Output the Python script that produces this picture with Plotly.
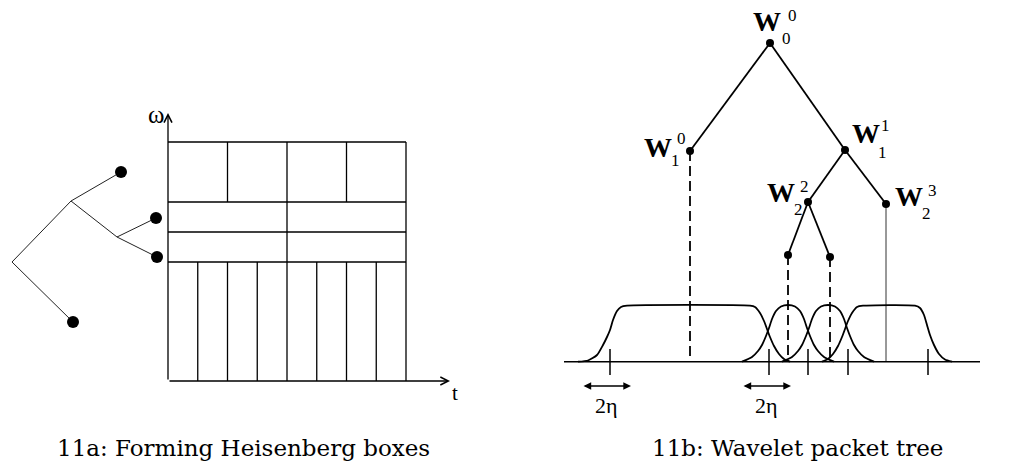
import plotly.graph_objects as go

# ---------------- data: panel 11a (Heisenberg boxes) ----------------
BOX_X = [168, 406]                      # left / right edge of the tiling
ROW_Y = [142, 202, 232, 262, 381]       # row edges, top to bottom
ROW_COLUMNS = [4, 2, 2, 8]              # boxes per row
OMEGA_TOP = 113
T_RIGHT = 450

TREE_A_NODES = {
    "root": (12, 262), "n1": (71, 201), "n2": (117, 237),
    "a": (121, 172), "b": (156, 218), "c": (157, 257), "d": (73, 322),
}
TREE_A_EDGES = [("root", "n1"), ("root", "d"), ("n1", "a"),
                ("n1", "n2"), ("n2", "b"), ("n2", "c")]
TREE_A_LEAVES = ["a", "b", "c", "d"]

# ---------------- data: panel 11b (wavelet packet tree) ----------------
TREE_B_NODES = {
    "W00": (770, 43), "W10": (690, 151), "W11": (845, 150),
    "W22": (808, 202), "W23": (886, 204), "L1": (788, 255), "L2": (830, 257),
}
TREE_B_EDGES = [("W00", "W10"), ("W00", "W11"), ("W11", "W22"),
                ("W11", "W23"), ("W22", "L1"), ("W22", "L2")]
DASHED_FROM = ["W10", "L1", "L2"]
SOLID_FROM = ["W23"]

# label: (letter pos, subscript, subscript pos, superscript, superscript pos)
W_LABELS = [
    ((767, 21), "0", (786, 38), "0", (792, 15)),
    ((658, 147), "1", (675, 160), "0", (681, 138)),
    ((866, 133), "1", (882, 152), "1", (885, 125)),
    ((781, 192), "2", (798, 209), "2", (804, 186)),
    ((909, 196), "2", (926, 213), "3", (932, 190)),
]

BASELINE_Y = 361.7
BASELINE_X = [564, 980]
TICK_X = [610, 769, 808, 848, 928]
TICK_Y = [349, 375]

PLATEAU1_X = [578, 588, 597, 603, 607, 610, 613, 617, 621, 627, 750, 755, 760, 764, 767, 770, 774, 779, 784, 790]
PLATEAU1_Y = [361.7, 360.5, 355, 345, 337, 330, 320, 311, 307, 305.7, 305.7, 307, 313, 321, 329, 337, 346, 354, 359, 361.7]
BUMP1_X = [742, 752, 758, 762, 766, 769, 772, 776, 781, 788, 795, 800, 804, 807, 810, 814, 818, 824, 834]
BUMP1_Y = [361.7, 357, 351, 345, 336, 328, 319, 311, 306.5, 305, 306.5, 311, 319, 328, 336, 345, 351, 357, 361.7]
BUMP2_X = [782, 792, 798, 802, 806, 809, 812, 816, 821, 828, 835, 840, 844, 847, 850, 854, 858, 864, 874]
BUMP2_Y = BUMP1_Y
PLATEAU2_X = [822, 828, 833, 838, 842, 845, 848, 852, 857, 863, 915, 920, 924, 927, 930, 934, 939, 945, 952]
PLATEAU2_Y = [361.7, 359, 354, 346, 337, 329, 321, 313, 307, 305.7, 305.7, 308, 315, 325, 335, 345, 354, 359.5, 361.7]

ETA_ARROWS = [(582, 631), (742, 791)]
ETA_ARROW_Y = 386
ETA_LABEL_Y = 405

CAPTIONS = [("11a: Forming Heisenberg boxes", 243), ("11b: Wavelet packet tree", 797)]
CAPTION_Y = 448

SERIF = "Liberation Serif, Times New Roman, serif"

# ---------------- build ----------------
fig = go.Figure()


def add_segments(segs, width, color="black", dash=None):
    xs, ys = [], []
    for (x0, y0), (x1, y1) in segs:
        xs += [x0, x1, None]
        ys += [y0, y1, None]
    fig.add_trace(go.Scatter(x=xs, y=ys, mode="lines", hoverinfo="skip",
                             line=dict(color=color, width=width, dash=dash)))


# tiling
left, right = BOX_X
segs = []
for y in ROW_Y[:-1]:
    segs.append(((left, y), (right, y)))
segs.append(((right, ROW_Y[0]), (right, ROW_Y[-1])))
for i, n in enumerate(ROW_COLUMNS):
    w = (right - left) / n
    for k in range(1, n):
        x = left + k * w
        segs.append(((x, ROW_Y[i]), (x, ROW_Y[i + 1])))
add_segments(segs, 1.3)

# tree a
add_segments([(TREE_A_NODES[a], TREE_A_NODES[b]) for a, b in TREE_A_EDGES], 1, "#222")
fig.add_trace(go.Scatter(x=[TREE_A_NODES[k][0] for k in TREE_A_LEAVES],
                         y=[TREE_A_NODES[k][1] for k in TREE_A_LEAVES],
                         mode="markers", hoverinfo="skip",
                         marker=dict(color="black", size=12)))

# tree b
add_segments([(TREE_B_NODES[a], TREE_B_NODES[b]) for a, b in TREE_B_EDGES], 1.8)
add_segments([(TREE_B_NODES[k], (TREE_B_NODES[k][0], BASELINE_Y)) for k in DASHED_FROM],
             1.8, dash="10px,5px")
add_segments([(TREE_B_NODES[k], (TREE_B_NODES[k][0], BASELINE_Y)) for k in SOLID_FROM],
             1, "#333")
fig.add_trace(go.Scatter(x=[v[0] for v in TREE_B_NODES.values()],
                         y=[v[1] for v in TREE_B_NODES.values()],
                         mode="markers", hoverinfo="skip",
                         marker=dict(color="black", size=8)))

# baseline and ticks
add_segments([((BASELINE_X[0], BASELINE_Y), (BASELINE_X[1], BASELINE_Y))]
             + [((x, TICK_Y[0]), (x, TICK_Y[1])) for x in TICK_X], 1.5)

# window curves
for cx, cy in [(PLATEAU1_X, PLATEAU1_Y), (BUMP1_X, BUMP1_Y),
               (BUMP2_X, BUMP2_Y), (PLATEAU2_X, PLATEAU2_Y)]:
    fig.add_trace(go.Scatter(x=cx, y=cy, mode="lines", hoverinfo="skip",
                             line=dict(color="black", width=1.8, shape="spline", smoothing=0.6)))

annotations = []
# axis arrows of panel a
annotations.append(dict(x=left, y=OMEGA_TOP, ax=left, ay=ROW_Y[-1], axref="x", ayref="y",
                        xref="x", yref="y", text="", showarrow=True, arrowhead=5,
                        arrowsize=1.2, arrowwidth=1.3, arrowcolor="black"))
annotations.append(dict(x=T_RIGHT, y=ROW_Y[-1], ax=left, ay=ROW_Y[-1], axref="x", ayref="y",
                        xref="x", yref="y", text="", showarrow=True, arrowhead=5,
                        arrowsize=1.2, arrowwidth=1.3, arrowcolor="black"))
annotations.append(dict(x=156, y=114, text="ω", showarrow=False, borderpad=0,
                        font=dict(family=SERIF, size=25, color="black")))
annotations.append(dict(x=455, y=393, text="t", showarrow=False, borderpad=0,
                        font=dict(family=SERIF, size=21, color="black")))

# W labels
for wpos, sub, subpos, sup, suppos in W_LABELS:
    annotations.append(dict(x=wpos[0], y=wpos[1], text="<b>W</b>", showarrow=False,
                            borderpad=0, font=dict(family=SERIF, size=28, color="black")))
    annotations.append(dict(x=subpos[0], y=subpos[1], text=sub, showarrow=False,
                            borderpad=0, font=dict(family=SERIF, size=17, color="black")))
    annotations.append(dict(x=suppos[0], y=suppos[1], text=sup, showarrow=False,
                            borderpad=0, font=dict(family=SERIF, size=17, color="black")))

# 2η arrows
for x0, x1 in ETA_ARROWS:
    annotations.append(dict(x=x1, y=ETA_ARROW_Y, ax=x0, ay=ETA_ARROW_Y, axref="x", ayref="y",
                            xref="x", yref="y", text="", showarrow=True, arrowhead=2,
                            arrowside="end+start", arrowsize=1.1, arrowwidth=1.4,
                            arrowcolor="black"))
    annotations.append(dict(x=(x0 + x1) / 2, y=ETA_LABEL_Y, text="2η", showarrow=False,
                            borderpad=0, font=dict(family=SERIF, size=22, color="black")))

# captions
for text, cx in CAPTIONS:
    annotations.append(dict(x=cx, y=CAPTION_Y, text=text, showarrow=False,
                            font=dict(family="DejaVu Serif", size=23, color="black")))

fig.update_layout(
    width=1012, height=469, margin=dict(l=0, r=0, t=0, b=0),
    paper_bgcolor="white", plot_bgcolor="white", showlegend=False,
    xaxis=dict(range=[0, 1012], visible=False, fixedrange=True),
    yaxis=dict(range=[469, 0], visible=False, fixedrange=True),
    annotations=annotations,
)

fig.write_html("out.html")
